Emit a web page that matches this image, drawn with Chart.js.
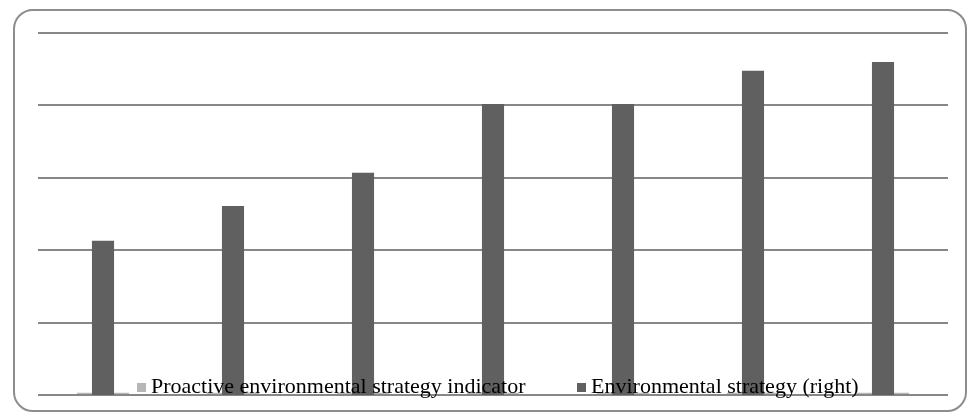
<!DOCTYPE html>
<html>
<head>
<meta charset="utf-8">
<script src="https://cdn.jsdelivr.net/npm/chart.js@4.4.1/dist/chart.umd.min.js"></script>
<style>
  html, body { margin: 0; padding: 0; background: #ffffff; }
  #wrap { position: relative; width: 970px; height: 414px; }
  #frame {
    position: absolute; left: 13px; top: 9px; width: 950px; height: 399px;
    border: 2px solid #8d8d8d; border-radius: 20px; pointer-events: none;
  }
  canvas { position: absolute; left: 0; top: 0; }
</style>
</head>
<body>
<div id="wrap">
  <canvas id="chart" width="970" height="414"></canvas>
  <div id="frame"></div>
</div>
<script>
// Periods along the horizontal axis (no tick labels are shown)
const categories = ['1', '2', '3', '4', '5', '6', '7'];

// Proactive environmental strategy indicator (left axis, near zero)
const proactiveIndicator = [0.03, 0.03, 0.03, 0.03, 0.03, 0.03, 0.03];

// Environmental strategy (right axis)
const environmentalStrategy = [2.13, 2.61, 3.07, 4.02, 4.02, 4.48, 4.60];

// Gridline positions of the value axis
const gridTicks = [0, 1, 2, 3, 4, 5];

const seriesNames = ['Proactive environmental strategy indicator', 'Environmental strategy (right)'];
const seriesColors = ['#b7b7b7', '#606060'];

// Legend drawn over the lower edge of the plot area
const overlayLegend = {
  id: 'overlayLegend',
  afterDraw(chart) {
    const ctx = chart.ctx;
    ctx.save();
    ctx.font = '22px "Liberation Serif", "Times New Roman", serif';
    ctx.textBaseline = 'alphabetic';
    const items = [
      { x: 137, label: chart.data.datasets[0].label, color: chart.data.datasets[0].backgroundColor },
      { x: 577, label: chart.data.datasets[1].label, color: chart.data.datasets[1].backgroundColor }
    ];
    items.forEach(it => {
      ctx.fillStyle = it.color;
      ctx.fillRect(it.x, 383, 9, 9);
      ctx.fillStyle = '#000000';
      ctx.fillText(it.label, it.x + 14, 393);
    });
    ctx.restore();
  }
};

new Chart(document.getElementById('chart'), {
  type: 'bar',
  data: {
    labels: categories,
    datasets: [
      {
        label: seriesNames[0],
        data: proactiveIndicator,
        backgroundColor: seriesColors[0],
        yAxisID: 'y',
        grouped: false,
        categoryPercentage: 1,
        barPercentage: 0.4,
        order: 2
      },
      {
        label: seriesNames[1],
        data: environmentalStrategy,
        backgroundColor: seriesColors[1],
        yAxisID: 'y2',
        grouped: false,
        categoryPercentage: 1,
        barPercentage: 0.17,
        order: 1
      }
    ]
  },
  options: {
    responsive: false,
    animation: false,
    layout: { padding: { left: 38, right: 22, top: 33, bottom: 19 } },
    plugins: { legend: { display: false }, tooltip: { enabled: false } },
    scales: {
      x: {
        grid: { display: false, drawTicks: false },
        border: { display: false },
        ticks: { display: false }
      },
      y: {
        min: gridTicks[0],
        max: gridTicks[gridTicks.length - 1],
        afterBuildTicks: axis => { axis.ticks = gridTicks.map(v => ({ value: v })); },
        grid: { color: '#878787', lineWidth: 2, drawTicks: false },
        border: { display: false },
        ticks: { display: false }
      },
      y2: {
        position: 'right',
        min: gridTicks[0],
        max: gridTicks[gridTicks.length - 1],
        grid: { display: false, drawTicks: false },
        border: { display: false },
        ticks: { display: false }
      }
    }
  },
  plugins: [overlayLegend]
});
</script>
</body>
</html>
